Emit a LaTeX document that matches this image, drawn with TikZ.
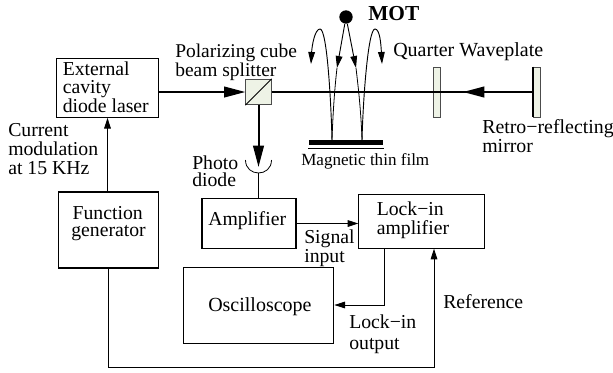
\documentclass[tikz,border=0pt]{standalone}
\usepackage{fontspec}
\setmainfont{Liberation Serif}
\usepackage{tikz}
\usetikzlibrary{arrows.meta,positioning,calc}
\definecolor{platecol}{HTML}{EEF3E6}
\newcommand{\lblsize}[2]{\fontsize{#1}{#2}\selectfont}

\begin{document}
\begin{tikzpicture}[
  x=0.75pt,y=-0.75pt,
  box/.style={draw,line width=0.8pt,inner sep=0pt},
  lbl/.style={inner sep=0pt,font=\lblsize{14.8}{12.5},align=left,anchor=north west},
  plate/.style={draw=black!70,line width=0.7pt,fill=platecol,inner sep=0pt,minimum width=5.2pt,minimum height=37.5pt},
  beam/.style={line width=1.5pt},
  beamarr/.style={beam,-{Triangle[length=16pt,width=8pt]}},
  sig/.style={line width=0.6pt,-{Triangle[length=8pt,width=5pt]}},
  wire/.style={line width=0.6pt},
  fall/.style={line width=0.7pt,-{Triangle[length=9pt,width=5pt]}}]
\useasboundingbox (0,0) rectangle (613,372);
% boxes
\node[box,minimum width=76pt,minimum height=44pt] (laser) at (107.5,88) {};
\node[box,minimum width=75.5pt,minimum height=57pt] (fgen) at (108.5,230) {};
\node[box,minimum width=70.5pt,minimum height=38pt] (amp) at (249,223.5) {};
\node[box,minimum width=94pt,minimum height=40pt] (lockin) at (421.5,221.5) {};
\node[box,minimum width=113pt,minimum height=56.5pt] (scope) at (258.5,305.5) {};
% optics
\node[plate] (wave) at (437,92) {};
\node[plate] (mirror) at (536.5,92) {};
\node[draw=black!70,line width=0.7pt,fill=platecol,inner sep=0pt,minimum size=19pt] (cube) at (258.5,92) {};
\draw[line width=0.7pt] (cube.south west) -- (cube.north east);
\node[fill=black,inner sep=0pt,minimum width=56pt,minimum height=3.8pt] (film) at (346,142.5) {};
\draw[line width=0.5pt] ($(film.south west)+(0,3.5)$) -- ($(film.south east)+(0,3.5)$);
\node[circle,fill=black,inner sep=0pt,minimum size=10pt] (atoms) at (346,17) {};
\coordinate (diode) at (258.5,173);
\coordinate (filml) at (332,140);
\coordinate (filmr) at (362,140);
\coordinate (fallL) at (337,68);
\coordinate (fallR) at (356,68);
\draw[wire] (245.5,160) .. controls (245.5,177.3) and (271.5,177.3) .. (271.5,160);
\draw[wire] (diode) -- (amp.north -| diode);
% beams
\draw[beamarr] (laser.east |- cube) -- (cube.west);
\draw[beamarr] (cube.south) -- (258.5,167);
\draw[beam] (cube.east) -- (mirror.west);
\coordinate (beamtip) at (463,92);
\draw[beamarr] ($(beamtip)+(21,0)$) -- (beamtip);
\draw[line width=1.5pt] (mirror.north west) -- (mirror.south west);
% atoms bouncing
\draw[fall] (filml) .. controls (331,100) and (327,29) .. (320,29) .. controls (315,29) and (312,45) .. (311,64);
\draw[fall] (atoms) -- (fallL);
\draw[wire] (filml) .. controls (333,110) and (335,85) .. (fallL);
\draw[fall] (filmr) .. controls (363,100) and (368,29) .. (375,29) .. controls (380,29) and (381,45) .. (382,64);
\draw[fall] (atoms) -- (fallR);
\draw[wire] (filmr) .. controls (361,110) and (358,85) .. (fallR);
% signals
\draw[sig] (fgen.north -| laser) -- (laser.south);
\draw[sig] (amp.east) -- (amp.east -| lockin.west);
\coordinate (outdrop) at (384,305);
\draw[sig] (lockin.south -| outdrop) -- (outdrop) -- (outdrop -| scope.east);
\coordinate (refin) at (434,367);
\draw[sig] (fgen.south) |- (refin) -- (lockin.south -| refin);
% labels
\node[lbl,font=\lblsize{14.8}{13.2}] (laserlbl) at (62.5,62) {External\\cavity\\diode laser};
\node[lbl,font=\lblsize{14.8}{12.6}] (fgenlbl) at (71,206) {\hspace{1pt}Function\\generator};
\node[lbl] (amplbl) at (208,211.6) {Amplifier};
\node[lbl,font=\lblsize{14.8}{14.3}] (locklbl) at (376.5,201.6) {Lock\textminus in\\amplifier};
\node[lbl,font=\lblsize{15}{15}] (scopelbl) at (208,297.6) {Oscilloscope};
\node[lbl,font=\lblsize{14.8}{14}] (modlbl) at (8,123.6) {Current\\modulation\\at 15 KHz};
\node[lbl,font=\lblsize{14.6}{12.6}] (pbslbl) at (175,44) {Polarizing cube\\beam splitter};
\node[lbl,font=\lblsize{16}{16}\bfseries] (motlbl) at (368,6) {MOT};
\node[lbl,font=\lblsize{15}{15}] (qwlbl) at (393,42.6) {Quarter Waveplate};
\node[lbl,font=\lblsize{14.9}{13}] (retrolbl) at (482,119.6) {Retro\textminus reflecting\\mirror};
\node[lbl,font=\lblsize{12.8}{13}] (filmlbl) at (301,153.5) {Magnetic thin film};
\node[lbl,font=\lblsize{14.8}{12.8}] (pdlbl) at (192,155.5) {Photo\\diode};
\node[lbl,font=\lblsize{14.8}{12.8}] (siglbl) at (304,229.6) {Signal\\input};
\node[lbl,font=\lblsize{14.8}{15.4}] (outlbl) at (349,314.6) {Lock\textminus in\\output};
\node[lbl] (reflbl) at (443,294.6) {Reference};
\end{tikzpicture}
\end{document}
